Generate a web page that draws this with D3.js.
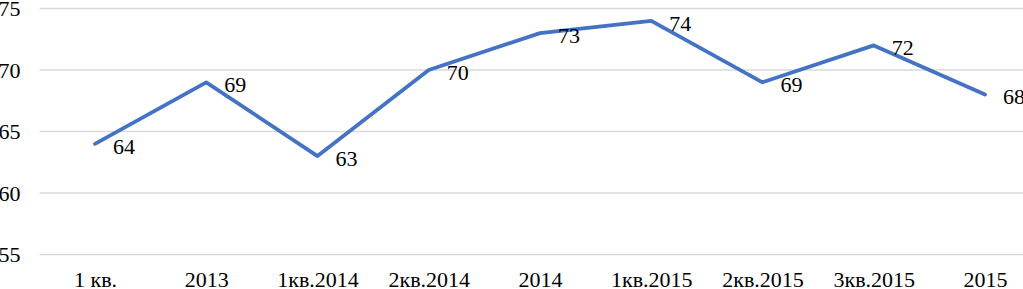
<!DOCTYPE html>
<html><head><meta charset="utf-8">
<script src="https://cdn.jsdelivr.net/npm/d3@7"></script>
<style>body{margin:0;background:#fff;overflow:hidden}svg{display:block}
svg text{font-family:"Liberation Serif","Times New Roman",serif !important;}</style>
</head><body>
<script>
const categories = ["1 кв.", "2013", "1кв.2014", "2кв.2014", "2014", "1кв.2015", "2кв.2015", "3кв.2015", "2015"];
const values = [64, 69, 63, 70, 73, 74, 69, 72, 68];
const yTicks = [55, 60, 65, 70, 75];

const W = 1023, H = 289;
const svg = d3.select("body").append("svg").attr("width", W).attr("height", H);
const x = d3.scalePoint().domain(categories).range([95, 985]);
const y = d3.scaleLinear().domain([55, 75]).range([254.5, 8.5]);

svg.append("g").selectAll("line").data(yTicks).join("line")
  .attr("x1", 39.5).attr("x2", 1041)
  .attr("y1", d => y(d)).attr("y2", d => y(d))
  .attr("stroke", "#d9d9d9").attr("stroke-width", 1.5);

const yAxis = d3.axisLeft(y).tickValues(yTicks).tickSize(0).tickPadding(0);
const gy = svg.append("g").attr("transform", "translate(20.5,0)").call(yAxis);
gy.select(".domain").remove();
gy.selectAll("text").attr("font-size", 22).attr("fill", "#000").attr("dy", "0.34em");

const xAxis = d3.axisBottom(x).tickSize(0).tickPadding(0);
const gx = svg.append("g").attr("transform", "translate(0,270)").call(xAxis);
gx.select(".domain").remove();
gx.selectAll("text").attr("font-size", 22).attr("fill", "#000").attr("dy", "0.76em");

const line = d3.line().x((d, i) => x(categories[i])).y(d => y(d));
svg.append("path").datum(values).attr("d", line)
  .attr("fill", "none").attr("stroke", "#4472C4").attr("stroke-width", 3.8)
  .attr("stroke-linejoin", "round").attr("stroke-linecap", "round");

svg.append("g").selectAll("text").data(values).join("text")
  .attr("x", (d, i) => x(categories[i]) + 18)
  .attr("y", d => y(d) + 2)
  .attr("dy", "0.35em")
  .attr("font-size", 22).attr("fill", "#000")
  .text(d => d);
</script>
</body></html>
